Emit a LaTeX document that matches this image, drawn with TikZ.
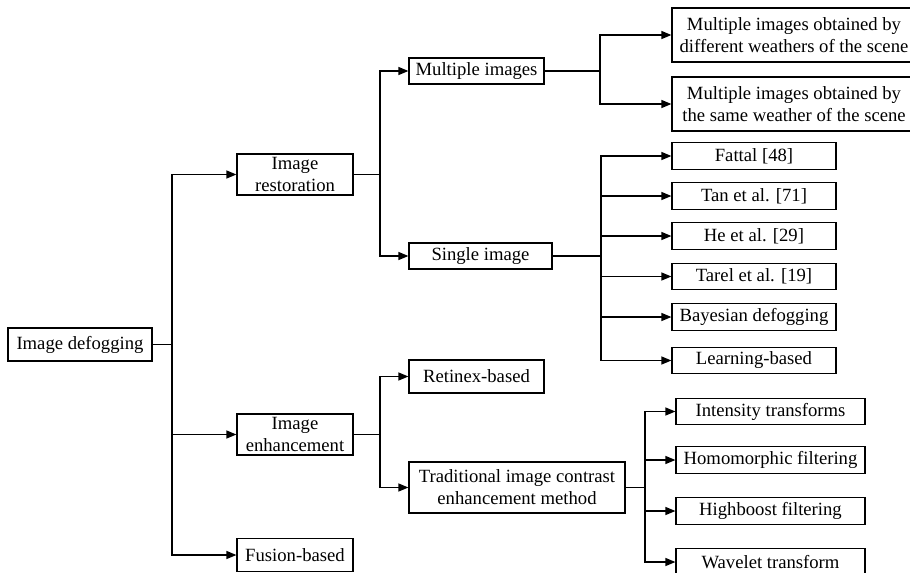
\documentclass[tikz,border=0pt]{standalone}
\usepackage{fontspec}
\setmainfont{Liberation Serif}
\usetikzlibrary{arrows.meta, positioning, calc}

\begin{document}
\begin{tikzpicture}[
        x=0.75pt, y=-0.75pt,
        box/.style={rectangle, draw, line width=0.9pt, inner sep=0pt, align=center, text centered, font=\fontsize{14}{16.5}\selectfont},
        link/.style={line width=1pt},
        arrow/.style={line width=1pt, -{Triangle[length=7.5pt, width=6pt]}}
    ]
    \useasboundingbox (0,0) rectangle (910,572);

    % Objects
    \node[box, minimum width=108pt, minimum height=24.75pt] (root) at (80,344.5) {Image defogging};

    \node[box, minimum width=87pt, minimum height=30.75pt] (rest) at (295,174.5) {Image\\restoration};
    \node[box, minimum width=87pt, minimum height=30.75pt] (enh) at (295,434.5) {Image\\enhancement};
    \node[box, minimum width=87pt, minimum height=24.75pt] (fus) at (295,555) {Fusion-based};

    \node[box, minimum width=101.25pt, minimum height=19.5pt] (multi) at (476.5,71) {Multiple images};
    \node[box, minimum width=107.25pt, minimum height=19.5pt] (single) at (480.5,256) {Single image};
    \node[box, minimum width=101.25pt, minimum height=24.75pt] (retinex) at (476.5,376.5) {Retinex-based};
    \node[box, minimum width=162pt, minimum height=38.25pt] (trad) at (517,487.5) {Traditional image contrast\\enhancement method};

    \node[box, minimum width=183pt, minimum height=40.5pt] (diffw) at (794,35) {Multiple images obtained by\\different weathers of the scene};
    \node[box, minimum width=183pt, minimum height=40.5pt] (samew) at (794,104) {Multiple images obtained by\\the same weather of the scene};

    \node[box, minimum width=123pt, minimum height=20pt] (fattal) at (754,156) {Fattal [48]};
    \node[box, minimum width=123pt, minimum height=20pt] (tan) at (754,196) {Tan et al. [71]};
    \node[box, minimum width=123pt, minimum height=20pt] (he) at (754,236) {He et al. [29]};
    \node[box, minimum width=123pt, minimum height=20pt] (tarel) at (754,276.5) {Tarel et al. [19]};
    \node[box, minimum width=123pt, minimum height=20pt] (bayes) at (754,317) {Bayesian defogging};
    \node[box, minimum width=123pt, minimum height=20pt] (learn) at (754,360.5) {Learning-based};

    \node[box, minimum width=141.75pt, minimum height=20pt] (inten) at (770.5,411.5) {Intensity transforms};
    \node[box, minimum width=141.75pt, minimum height=20pt] (homo) at (770.5,460) {Homomorphic filtering};
    \node[box, minimum width=141.75pt, minimum height=20pt] (high) at (770.5,511) {Highboost filtering};
    \node[box, minimum width=141.75pt, minimum height=20pt] (wave) at (770.5,562) {Wavelet transform};

    % Junctions
    \coordinate (j_root) at (172,0);
    \coordinate (j_rest) at (380,0);
    \coordinate (j_enh) at (380,0);
    \coordinate (j_multi) at (600,0);
    \coordinate (j_single) at (601,0);
    \coordinate (j_trad) at (645,0);

    % Branches
    \draw[link] (root.east) -- (root.east -| j_root);
    \foreach \c in {rest, enh, fus}
        \draw[arrow] (root.east -| j_root) |- (\c.west);

    \draw[link] (rest.east) -- (rest.east -| j_rest);
    \foreach \c in {multi, single}
        \draw[arrow] (rest.east -| j_rest) |- (\c.west);

    \draw[link] (enh.east) -- (enh.east -| j_enh);
    \foreach \c in {retinex, trad}
        \draw[arrow] (enh.east -| j_enh) |- (\c.west);

    \draw[link] (multi.east) -- (multi.east -| j_multi);
    \foreach \c in {diffw, samew}
        \draw[arrow] (multi.east -| j_multi) |- (\c.west);

    \draw[link] (single.east) -- (single.east -| j_single);
    \foreach \c in {fattal, tan, he, tarel, bayes, learn}
        \draw[arrow] (single.east -| j_single) |- (\c.west);

    \draw[link] (trad.east) -- (trad.east -| j_trad);
    \foreach \c in {inten, homo, high, wave}
        \draw[arrow] (trad.east -| j_trad) |- (\c.west);

\end{tikzpicture}
\end{document}
